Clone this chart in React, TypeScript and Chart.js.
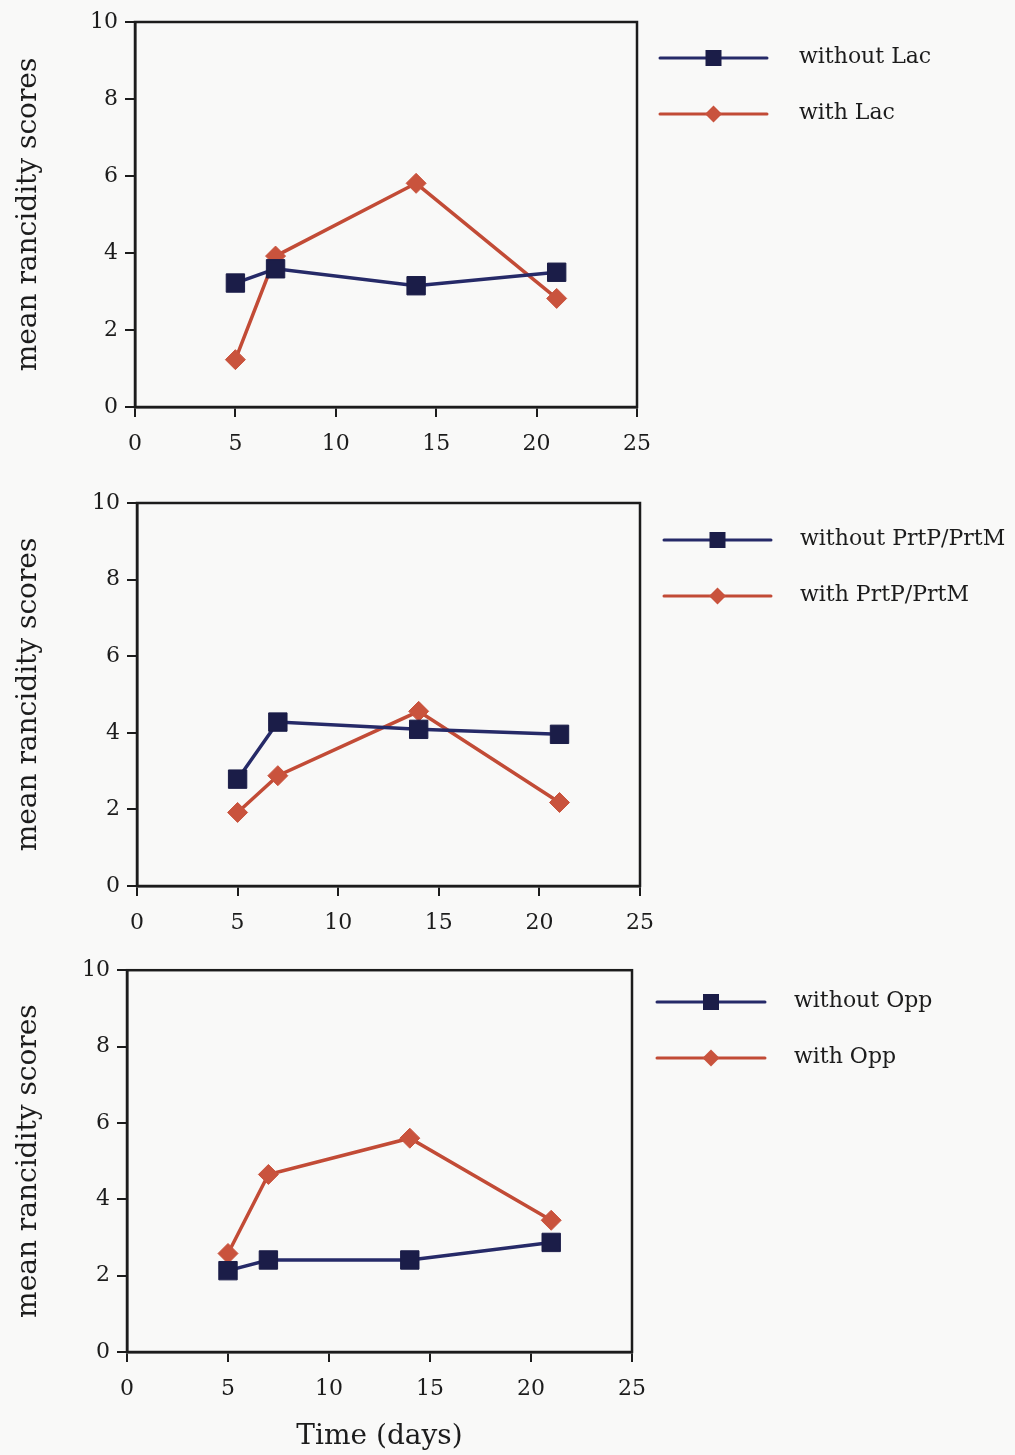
import React, { useEffect, useRef } from 'react';
import { Chart, registerables } from 'chart.js';

Chart.register(...registerables);

// Storage time (days) at which rancidity was scored
const days = [5, 7, 14, 21];

// Mean rancidity scores per strain pair
const lacWithout = [3.22, 3.59, 3.15, 3.5];
const lacWith = [1.23, 3.92, 5.81, 2.82];
const prtWithout = [2.79, 4.28, 4.09, 3.96];
const prtWith = [1.92, 2.88, 4.56, 2.18];
const oppWithout = [2.13, 2.41, 2.41, 2.87];
const oppWith = [2.58, 4.65, 5.6, 3.45];

const lacLabels = ['without Lac', 'with Lac'];
const prtLabels = ['without PrtP/PrtM', 'with PrtP/PrtM'];
const oppLabels = ['without Opp', 'with Opp'];

const xTickValues = [0, 5, 10, 15, 20, 25];
const yTickValues = [0, 2, 4, 6, 8, 10];

const FONT = '"DejaVu Serif", "Liberation Serif", serif';
const INK = '#1c1c1c';
const BLUE_LINE = '#262a68';
const BLUE_FILL = '#1b1d48';
const RED_LINE = '#c24b36';
const RED_FILL = '#c9533d';

type Geometry = {
  top: number;
  height: number;
  area: { left: number; right: number; top: number; bottom: number };
  legend: { x0: number; x1: number; textX: number; rows: number[] };
  xTitle: boolean;
};

const WIDTH = 1015;

// Legend drawn beside the plot: short line with its marker, then the label
const sideLegend = {
  id: 'sideLegend',
  afterDraw(chart: any, _args: any, opts: any) {
    const ctx = chart.ctx as CanvasRenderingContext2D;
    chart.data.datasets.forEach((ds: any, i: number) => {
      const y = opts.rows[i];
      ctx.save();
      ctx.strokeStyle = ds.borderColor;
      ctx.lineWidth = 3;
      ctx.lineCap = 'round';
      ctx.beginPath();
      ctx.moveTo(opts.x0, y);
      ctx.lineTo(opts.x1, y);
      ctx.stroke();
      const cx = (opts.x0 + opts.x1) / 2;
      ctx.fillStyle = ds.pointBackgroundColor;
      ctx.beginPath();
      if (ds.pointStyle === 'rect') {
        const h = 8;
        ctx.rect(cx - h, y - h, 2 * h, 2 * h);
      } else {
        const h = 8.5;
        ctx.moveTo(cx - h, y);
        ctx.lineTo(cx, y - h);
        ctx.lineTo(cx + h, y);
        ctx.lineTo(cx, y + h);
        ctx.closePath();
      }
      ctx.fill();
      ctx.fillStyle = INK;
      ctx.font = `22px ${FONT}`;
      ctx.textBaseline = 'middle';
      ctx.textAlign = 'left';
      ctx.fillText(ds.label, opts.textX, y - 1);
      ctx.restore();
    });
  },
};

// Closed box around the plotting area
const plotFrame = {
  id: 'plotFrame',
  afterDraw(chart: any) {
    const { ctx, chartArea } = chart;
    ctx.save();
    ctx.strokeStyle = INK;
    ctx.lineWidth = 2.5;
    ctx.strokeRect(chartArea.left, chartArea.top, chartArea.right - chartArea.left, chartArea.bottom - chartArea.top);
    ctx.restore();
  },
};

function Panel({ geo, labels, without, withVals }: { geo: Geometry; labels: string[]; without: number[]; withVals: number[] }) {
  const ref = useRef<HTMLCanvasElement | null>(null);

  useEffect(() => {
    if (!ref.current) return;
    const a = geo.area;
    const chart = new Chart(ref.current, {
      type: 'line',
      data: {
        datasets: [
          {
            label: labels[0],
            data: days.map((d, i) => ({ x: d, y: without[i] })),
            borderColor: BLUE_LINE,
            borderWidth: 3.5,
            pointStyle: 'rect',
            pointRadius: 13,
            pointBackgroundColor: BLUE_FILL,
            pointBorderColor: BLUE_FILL,
            pointBorderWidth: 1,
            tension: 0,
          },
          {
            label: labels[1],
            data: days.map((d, i) => ({ x: d, y: withVals[i] })),
            borderColor: RED_LINE,
            borderWidth: 3.5,
            pointStyle: 'rectRot',
            pointRadius: 10,
            pointBackgroundColor: RED_FILL,
            pointBorderColor: RED_FILL,
            pointBorderWidth: 1,
            tension: 0,
          },
        ],
      },
      options: {
        animation: false,
        responsive: false,
        devicePixelRatio: 1,
        layout: { padding: { left: 0, top: a.top, right: WIDTH - a.right, bottom: 0 } },
        plugins: {
          legend: { display: false },
          tooltip: { enabled: false },
          sideLegend: geo.legend,
        } as any,
        scales: {
          x: {
            type: 'linear',
            min: 0,
            max: 25,
            afterBuildTicks: (s: any) => {
              s.ticks = xTickValues.map((v) => ({ value: v }));
            },
            afterFit: (s: any) => {
              s.height = geo.height - a.bottom;
            },
            grid: { drawOnChartArea: false, drawTicks: true, tickLength: 10, color: INK, lineWidth: 2 },
            border: { display: true, color: INK, width: 2.5 },
            ticks: { color: INK, font: { family: FONT, size: 22 }, padding: 14, maxRotation: 0 },
            title: {
              display: geo.xTitle,
              text: 'Time (days)',
              color: INK,
              font: { family: FONT, size: 28 },
              padding: { top: 0, bottom: 1 },
            },
          },
          y: {
            type: 'linear',
            min: 0,
            max: 10,
            afterBuildTicks: (s: any) => {
              s.ticks = yTickValues.map((v) => ({ value: v }));
            },
            afterFit: (s: any) => {
              s.width = a.left;
            },
            grid: { drawOnChartArea: false, drawTicks: true, tickLength: 10, color: INK, lineWidth: 2 },
            border: { display: true, color: INK, width: 2.5 },
            ticks: { color: INK, font: { family: FONT, size: 22 }, padding: 7 },
            title: {
              display: true,
              text: 'mean rancidity scores',
              color: INK,
              font: { family: FONT, size: 28 },
              padding: { top: 12, bottom: 0 },
            },
          },
        },
      },
      plugins: [sideLegend, plotFrame],
    });
    return () => chart.destroy();
  }, [geo, labels, without, withVals]);

  return (
    <canvas
      ref={ref}
      width={WIDTH}
      height={geo.height}
      style={{ position: 'absolute', left: 0, top: geo.top, width: WIDTH, height: geo.height }}
    />
  );
}

const lacGeo: Geometry = {
  top: 0,
  height: 480,
  area: { left: 135, right: 637, top: 22, bottom: 407 },
  legend: { x0: 660, x1: 767, textX: 799, rows: [58, 114] },
  xTitle: false,
};
const prtGeo: Geometry = {
  top: 480,
  height: 470,
  area: { left: 137, right: 640, top: 23, bottom: 406 },
  legend: { x0: 664, x1: 771, textX: 800, rows: [60, 116] },
  xTitle: false,
};
const oppGeo: Geometry = {
  top: 950,
  height: 505,
  area: { left: 127, right: 632, top: 19, bottom: 402 },
  legend: { x0: 657, x1: 765, textX: 794, rows: [52, 108] },
  xTitle: true,
};

export default function App() {
  return (
    <div style={{ position: 'absolute', left: 0, top: 0, width: WIDTH, height: 1455, background: '#f9f9f8', overflow: 'hidden' }}>
      <Panel geo={lacGeo} labels={lacLabels} without={lacWithout} withVals={lacWith} />
      <Panel geo={prtGeo} labels={prtLabels} without={prtWithout} withVals={prtWith} />
      <Panel geo={oppGeo} labels={oppLabels} without={oppWithout} withVals={oppWith} />
    </div>
  );
}
